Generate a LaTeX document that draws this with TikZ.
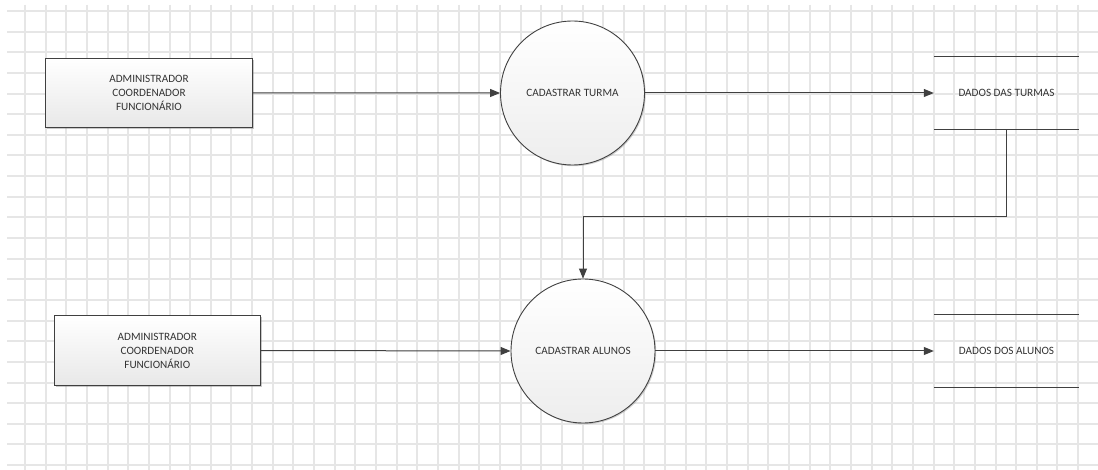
\documentclass[tikz,border=0pt]{standalone}
\usepackage{fontspec}
\setmainfont{Carlito}
\usetikzlibrary{arrows.meta,shadows}
\definecolor{ink}{HTML}{404040}
\definecolor{txt}{HTML}{333333}
\definecolor{gridc}{HTML}{E6E6E6}
\begin{document}
\begin{tikzpicture}[x=1pt,y=-1pt,
  font=\fontsize{11.2}{14}\selectfont, text=txt,
  actor/.style={draw=ink, line width=1pt, rectangle, minimum width=206.6pt, minimum height=69pt,
    top color=white, bottom color=black!9, align=center, inner sep=0pt,
    drop shadow={shadow xshift=1.5pt, shadow yshift=-1.5pt, opacity=0.35, fill=black!60}},
  proc/.style={draw=ink, line width=0.9pt, circle, minimum size=144pt, inner sep=0pt,
    top color=white, bottom color=black!7,
    drop shadow={shadow xshift=1.2pt, shadow yshift=-1.2pt, opacity=0.3, fill=black!60}},
  store/.style={minimum width=145pt, minimum height=72.5pt, inner sep=0pt},
  storeline/.style={draw=ink, line width=1pt},
  flow/.style={draw=ink, line width=1pt, -{Triangle[length=10pt,width=8pt]}},
  gridline/.style={draw=gridc, line width=2pt}]
\useasboundingbox (0,0) rectangle (1098,470);
\fill[white] (0,0) rectangle (1098,470);
% grid
\foreach \i in {0,...,51} {
  \pgfmathsetmacro{\gx}{round(25+20.65*\i)}
  \draw[gridline] (\gx,5) -- (\gx,470);
}
\foreach \j in {0,...,22} {
  \pgfmathsetmacro{\gy}{round(11+20.64*\j)}
  \draw[gridline] (7,\gy) -- (1098,\gy);
}
% nodes
\node[actor] (a1) at (149,92.8) {ADMINISTRADOR\\COORDENADOR\\FUNCIONÁRIO};
\node[actor] (a2) at (157.3,350.5) {ADMINISTRADOR\\COORDENADOR\\FUNCIONÁRIO};
\node[proc] (p1) at (572.5,93) {CADASTRAR TURMA};
\node[proc] (p2) at (583,351) {CADASTRAR ALUNOS};
\node[store] (s1) at (1006.5,93) {DADOS DAS TURMAS};
\node[store] (s2) at (1006.5,351) {DADOS DOS ALUNOS};
\draw[storeline] (s1.north west) -- (s1.north east);
\draw[storeline] (s1.south west) -- (s1.south east);
\draw[storeline] (s2.north west) -- (s2.north east);
\draw[storeline] (s2.south west) -- (s2.south east);
% flows
\draw[flow] (a1.east) -- (p1.west);
\draw[flow] (p1.east) -- (s1.west);
\draw[flow] (a2.east) -- (p2.west);
\draw[flow] (p2.east) -- (s2.west);
\coordinate (turn) at (1006,216.7);
\draw[flow] (s1.south -| turn) -- (turn) -| (p2.north);
\end{tikzpicture}
\end{document}
